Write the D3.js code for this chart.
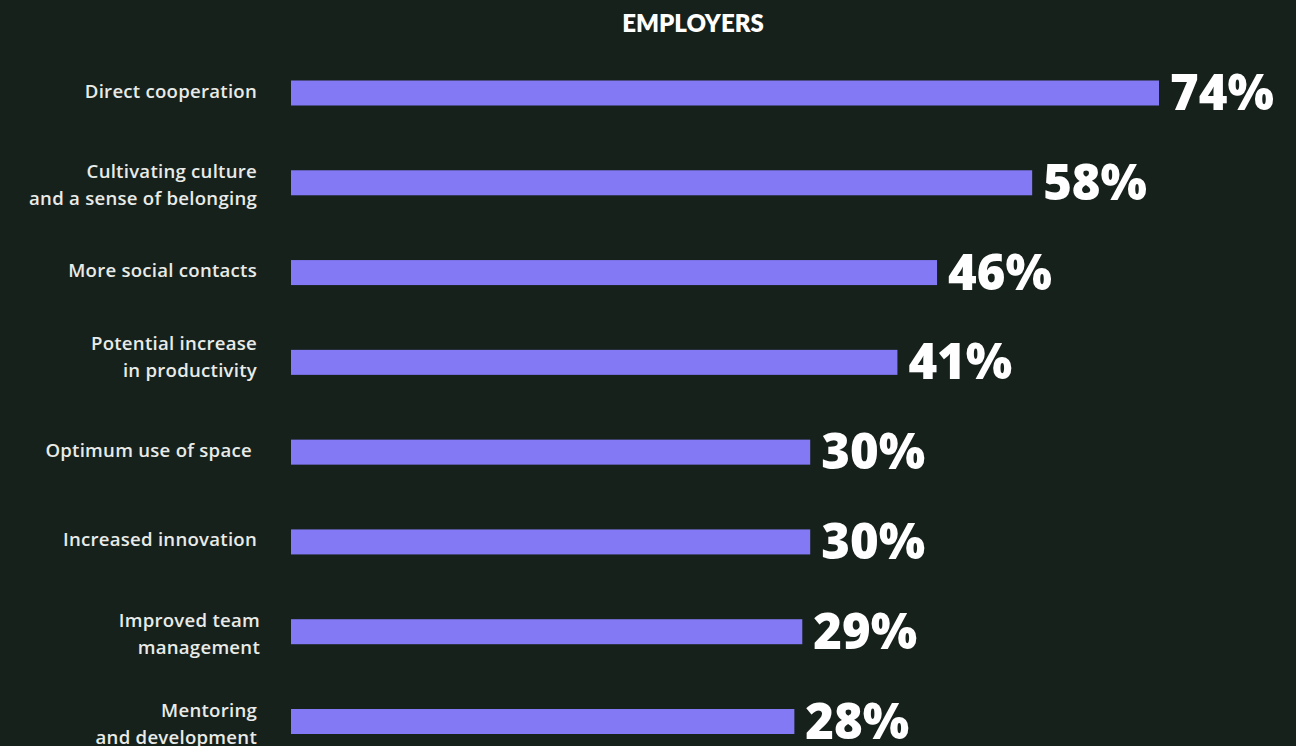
<!DOCTYPE html>
<html>
<head>
<meta charset="utf-8">
<script src="https://cdn.jsdelivr.net/npm/d3@7"></script>
<style>
  html, body { margin: 0; padding: 0; background: #17211c; }
  svg { display: block; }
  .cat { white-space: pre; }
</style>
</head>
<body>
<svg id="chart" width="1296" height="746"></svg>
<script>
// Reasons employers give for returning to the office (share of respondents, %)
const title = "EMPLOYERS";
const categories = [
  ["Direct cooperation"],
  ["Cultivating culture", "and a sense of belonging"],
  ["More social contacts"],
  ["Potential increase", "in productivity"],
  ["Optimum use of space "],
  ["Increased innovation"],
  ["Improved team", "management"],
  ["Mentoring", "and development"]
];
const values = [74, 58, 46, 41, 30, 30, 29, 28];
const valueLabels = ["74%", "58%", "46%", "41%", "30%", "30%", "29%", "28%"];

// Layout
const W = 1296, H = 746;
const barLeft = 291;
const barH = 25;
const labelRight = 257;
const bg = "#17211c";
const barColor = "#8479f5";

const svg = d3.select("#chart");
svg.append("rect").attr("width", W).attr("height", H).attr("fill", bg);

const idx = d3.range(values.length);
const y = d3.scalePoint().domain(idx).range([93, 721.5]);
const x = d3.scaleLinear().domain([-35.5, 74]).range([barLeft, 1159]);

// Title
svg.append("text")
  .attr("x", 693).attr("y", 32)
  .attr("text-anchor", "middle")
  .attr("fill", "#ffffff")
  .style("font-family", "Lato, 'Open Sans', sans-serif")
  .style("font-weight", 800)
  .style("font-size", "24px")
  .text(title);

// Bars
svg.append("g").selectAll("rect")
  .data(idx)
  .join("rect")
  .attr("x", x.range()[0])
  .attr("y", i => y(i) - barH / 2)
  .attr("width", i => x(values[i]) - x.range()[0])
  .attr("height", barH)
  .attr("fill", barColor);

// Category labels (right-aligned, one or two lines)
const nudgeDy = { 3: -7.5 };
const nudgeDx = { 6: 3 };
const catG = svg.append("g")
  .style("font-family", "'Open Sans', sans-serif")
  .style("font-weight", 600)
  .style("font-size", "18.6px")
  .style("letter-spacing", "0.25px")
  .attr("fill", "#e8ebe8");

idx.forEach(i => {
  const lines = categories[i];
  const cy = y(i);
  const dx = nudgeDx[i] || 0;
  const dy = nudgeDy[i] || 0;
  const t = catG.append("text")
    .attr("class", "cat")
    .attr("text-anchor", "end");
  if (lines.length === 1) {
    t.append("tspan").attr("x", labelRight + dx).attr("y", cy + 4.5).text(lines[0]);
  } else {
    lines.forEach((ln, k) => {
      t.append("tspan")
        .attr("x", labelRight + dx)
        .attr("y", cy - 5 + dy + k * 27.5)
        .text(ln);
    });
  }
});

// Value labels
svg.append("g").selectAll("text")
  .data(idx)
  .join("text")
  .attr("x", i => x(values[i]) + 11)
  .attr("y", i => y(i) + 17)
  .attr("fill", "#ffffff")
  .style("font-family", "'Open Sans', sans-serif")
  .style("font-weight", 800)
  .style("font-size", "49px")
  .text(i => valueLabels[i]);
</script>
</body>
</html>
